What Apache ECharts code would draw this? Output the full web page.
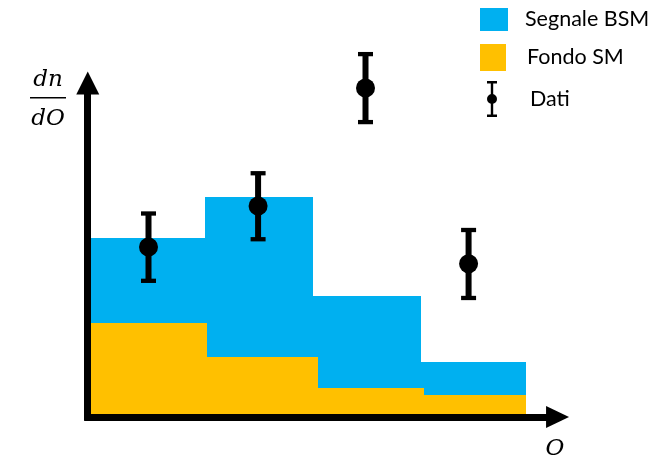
<!DOCTYPE html>
<html>
<head>
<meta charset="utf-8">
<script src="https://cdn.jsdelivr.net/npm/echarts@6/dist/echarts.min.js"></script>
<style>
  html, body { margin: 0; padding: 0; background: #fff; }
  #chart { width: 664px; height: 459px; }
</style>
</head>
<body>
<div id="chart"></div>
<script>
// ---- Data ----
const seriesNames = ['Segnale BSM', 'Fondo SM', 'Dati'];
// bin edges (arbitrary units along the observable axis)
const signalEdges = [0, 1.05, 2.04, 3.03, 4.0];
const backgroundEdges = [0, 1.06, 2.08, 3.06, 4.0];
// stacked histogram contents
const backgroundValues = [2.73, 1.70, 0.76, 0.55];   // Fondo SM
const signalValues = [2.57, 4.85, 2.79, 1.00];       // Segnale BSM (on top of background)
// data points
const dataX = [0.53, 1.54, 2.53, 3.48];
const dataY = [5.03, 6.27, 9.85, 4.52];
const dataErr = [1.02, 1.00, 1.03, 1.03];

const BLUE = '#00B0F0';
const YELLOW = '#FFC000';
const BLACK = '#000000';

const bgData = backgroundValues.map((v, i) => [backgroundEdges[i], backgroundEdges[i + 1], 0, v]);
const sigData = signalValues.map((v, i) => [signalEdges[i], signalEdges[i + 1], backgroundValues[i], backgroundValues[i] + v]);
const ptData = dataY.map((v, i) => [dataX[i], v, dataErr[i]]);

function rectItem(color) {
  return function (params, api) {
    const p0 = api.coord([api.value(0), api.value(3)]);
    const p1 = api.coord([api.value(1), api.value(2)]);
    const x0 = Math.round(p0[0]), y0 = Math.round(p0[1]);
    const x1 = Math.round(p1[0]) + 1, y1 = Math.round(p1[1]) + 1;
    return {
      type: 'rect',
      shape: { x: x0, y: y0, width: x1 - x0, height: y1 - y0 },
      style: { fill: color }
    };
  };
}

function errItem(params, api) {
  const x = api.value(0), y = api.value(1), e = api.value(2);
  const c = api.coord([x, y]);
  const t = api.coord([x, y + e]);
  const b = api.coord([x, y - e]);
  return {
    type: 'group',
    children: [
      { type: 'rect', shape: { x: c[0] - 3, y: t[1], width: 6, height: b[1] - t[1] }, style: { fill: BLACK } },
      { type: 'rect', shape: { x: c[0] - 7.5, y: t[1] - 2, width: 15, height: 4.3 }, style: { fill: BLACK } },
      { type: 'rect', shape: { x: c[0] - 7.5, y: b[1] - 2, width: 15, height: 4.3 }, style: { fill: BLACK } },
      { type: 'circle', shape: { cx: c[0], cy: c[1], r: 9.5 }, style: { fill: BLACK } }
    ]
  };
}

const errIcon = 'path://M0 0H10V2.4H0Z M0 33.6H10V36H0Z M3.8 0H6.2V36H3.8Z M0 18A5 5 0 1 1 10 18A5 5 0 1 1 0 18Z';

const legendText = { fontFamily: 'Lato', fontSize: 21.5, color: '#000' };
const mathFont = 'italic 23px "DejaVu Serif"';

const chart = echarts.init(document.getElementById('chart'), null, { renderer: 'canvas' });
chart.setOption({
  animation: false,
  backgroundColor: '#ffffff',
  grid: { left: 87.745, right: 106.45, top: 83, bottom: 42.04, containLabel: false },
  xAxis: {
    type: 'value', min: -0.03, max: 4.3,
    axisLine: {
      show: true, onZero: false,
      lineStyle: { color: BLACK, width: 7, cap: 'square' },
      symbol: ['none', 'triangle'], symbolSize: [22, 23], symbolOffset: [0, 0]
    },
    axisTick: { show: false }, axisLabel: { show: false }, splitLine: { show: false }
  },
  yAxis: {
    type: 'value', min: -0.12, max: 10,
    axisLine: {
      show: true, onZero: false,
      lineStyle: { color: BLACK, width: 7, cap: 'square' },
      symbol: ['none', 'triangle'], symbolSize: [23, 23], symbolOffset: [0, 0]
    },
    axisTick: { show: false }, axisLabel: { show: false }, splitLine: { show: false }
  },
  legend: [
    { left: 480, top: 8, padding: 0, itemWidth: 28, itemHeight: 23, icon: 'rect', selectedMode: false,
      data: [seriesNames[0]], textStyle: Object.assign({ padding: [0, 0, 0, 12] }, legendText) },
    { left: 480, top: 44, padding: 0, itemWidth: 26, itemHeight: 27, icon: 'rect', selectedMode: false,
      data: [seriesNames[1]], textStyle: Object.assign({ padding: [0, 0, 0, 16] }, legendText) },
    { left: 487, top: 81, padding: 0, itemWidth: 10, itemHeight: 36, icon: errIcon, selectedMode: false,
      data: [seriesNames[2]], textStyle: Object.assign({ padding: [0, 0, 0, 28] }, legendText) }
  ],
  series: [
    { name: seriesNames[0], type: 'custom', renderItem: rectItem(BLUE), data: sigData,
      itemStyle: { color: BLUE }, encode: { x: [0, 1], y: [2, 3] }, z: 2, silent: true },
    { name: seriesNames[1], type: 'custom', renderItem: rectItem(YELLOW), data: bgData,
      itemStyle: { color: YELLOW }, encode: { x: [0, 1], y: [2, 3] }, z: 3, silent: true },
    { name: seriesNames[2], type: 'custom', renderItem: errItem, data: ptData, clip: false,
      itemStyle: { color: BLACK }, encode: { x: 0, y: 1 }, z: 5, silent: true }
  ],
  graphic: [
    { type: 'text', style: { text: 'dn', x: 48, y: 80, align: 'center', verticalAlign: 'middle',
        font: mathFont, fill: BLACK } },
    { type: 'rect', shape: { x: 30, y: 97, width: 36, height: 1.6 }, style: { fill: BLACK } },
    { type: 'text', style: { text: 'dO', x: 48, y: 119, align: 'center', verticalAlign: 'middle',
        font: mathFont, fill: BLACK } },
    { type: 'text', style: { text: 'O', x: 555, y: 449, align: 'center', verticalAlign: 'middle',
        font: 'italic 23px "DejaVu Serif"', fill: BLACK } }
  ]
});
</script>
</body>
</html>
